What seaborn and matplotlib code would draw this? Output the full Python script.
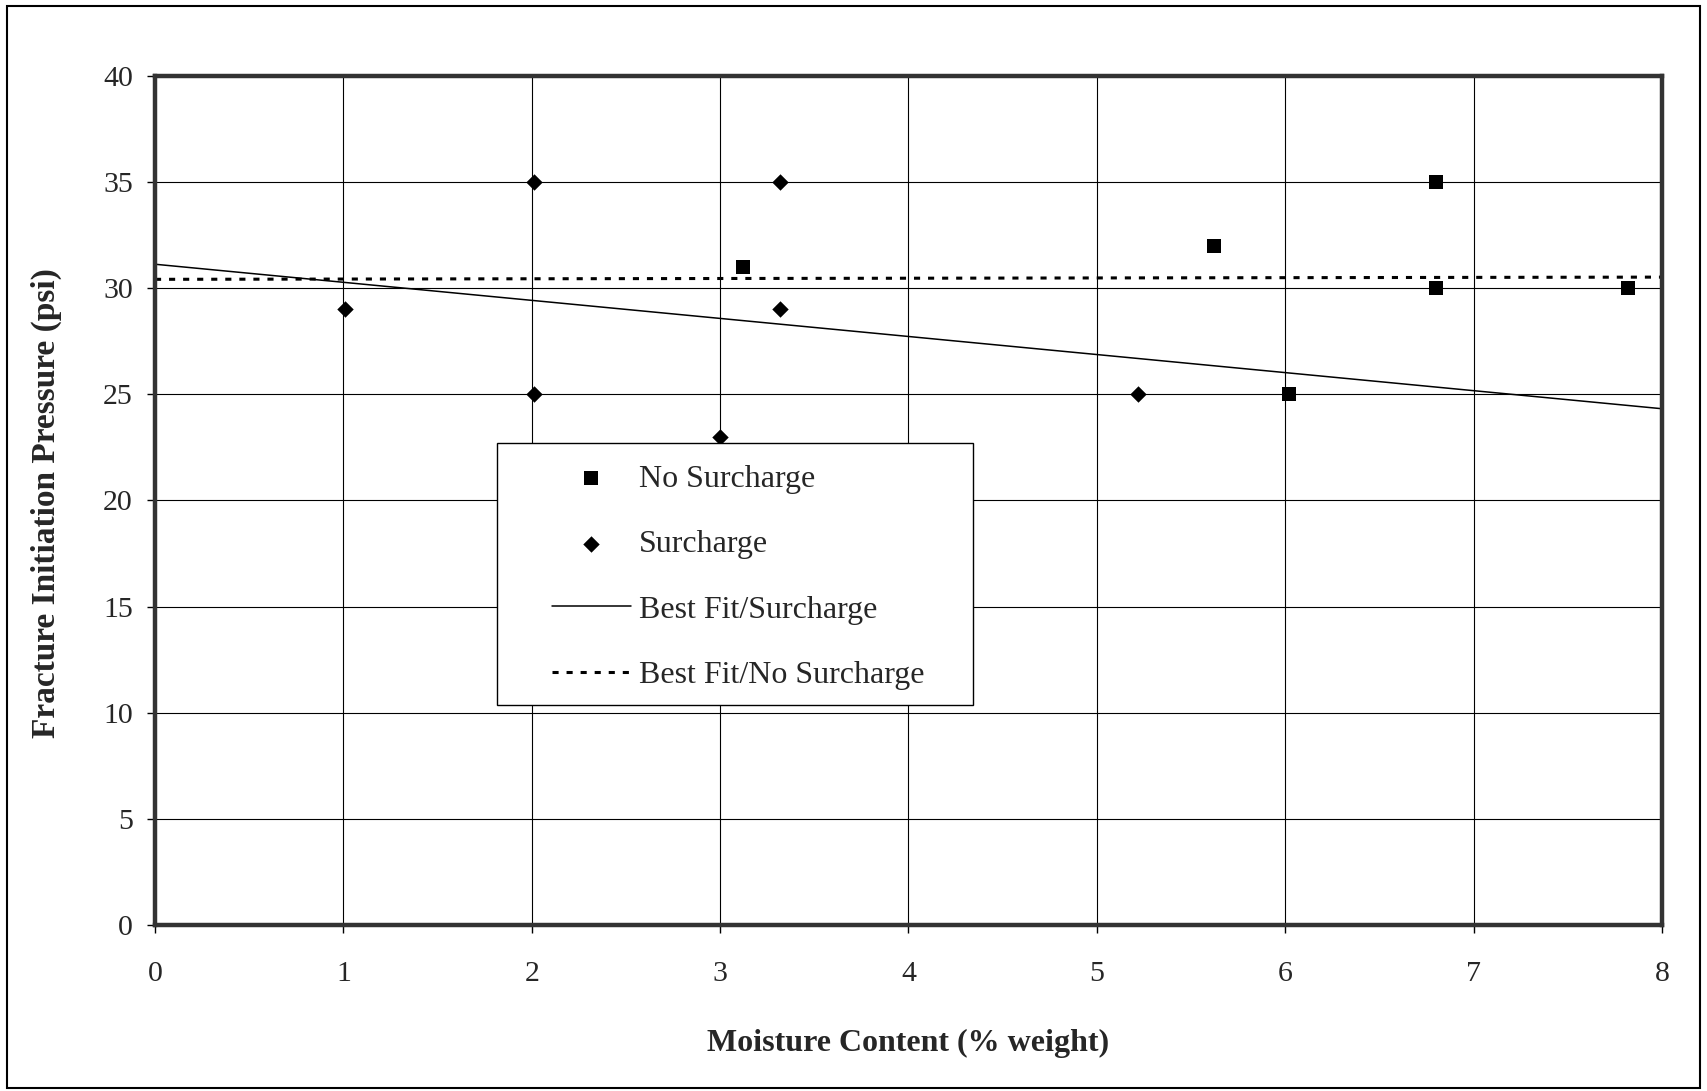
import pandas as pd
import seaborn as sns
import matplotlib.pyplot as plt
from matplotlib.patches import Rectangle

# Datos
moist_no_surch = [3.12, 5.62, 6.02, 6.80, 6.80, 7.82]
press_no_surch = [31, 32, 25, 35, 30, 30]
moist_surch = [1.01, 2.01, 2.01, 3.00, 3.32, 3.32, 5.22]
press_surch = [29, 35, 25, 23, 35, 29, 25]
x_ticks = [0, 1, 2, 3, 4, 5, 6, 7, 8]
y_ticks = [0, 5, 10, 15, 20, 25, 30, 35, 40]

df_no = pd.DataFrame({'moist': moist_no_surch, 'press': press_no_surch})
df_s = pd.DataFrame({'moist': moist_surch, 'press': press_surch})

sns.set_theme(style="white")
plt.rcParams['font.family'] = ['Liberation Serif', 'DejaVu Serif']

fig = plt.figure(figsize=(17.07, 10.91), dpi=100)
ax = fig.add_axes([0.0908, 0.1522, 0.8828, 0.7781])
ax.set_xlim(0, 8)
ax.set_ylim(0, 40)

# puntos
sns.scatterplot(data=df_no, x='moist', y='press', marker='s', s=100,
                color='black', edgecolor='black', linewidth=0,
                label='No Surcharge', ax=ax, zorder=3)
sns.scatterplot(data=df_s, x='moist', y='press', marker='D', s=70,
                color='black', edgecolor='black', linewidth=0,
                label='Surcharge', ax=ax, zorder=3)

# rectas de ajuste (regresión lineal de seaborn sobre todo el eje)
sns.regplot(data=df_s, x='moist', y='press', scatter=False, ci=None,
            truncate=False, color='black', label='Best Fit/Surcharge',
            line_kws={'lw': 1.1, 'zorder': 2}, ax=ax)
sns.regplot(data=df_no, x='moist', y='press', scatter=False, ci=None,
            truncate=False, color='black', label='Best Fit/No Surcharge',
            line_kws={'lw': 2.2, 'ls': (0, (2, 2.6)), 'zorder': 2}, ax=ax)

ax.set_xlim(0, 8)
ax.set_ylim(0, 40)
ax.set_xticks(x_ticks)
ax.set_yticks(y_ticks)

# rejilla y bordes
ax.grid(True, color='black', lw=0.8)
ax.set_axisbelow(True)
for sp in ax.spines.values():
    sp.set_linewidth(3.2)
    sp.set_color('0.2')
    sp.set_visible(True)

ax.tick_params(axis='both', direction='out', length=6, width=1, color='black',
               labelsize=21.5, bottom=True, left=True)
ax.tick_params(axis='x', pad=20)
ax.tick_params(axis='y', pad=10)

ax.set_xlabel("Moisture Content (% weight)", fontsize=23, fontweight='bold')
ax.set_ylabel("Fracture Initiation Pressure (psi)", fontsize=24, fontweight='bold')
ax.xaxis.set_label_coords(0.5, -0.123)
ax.yaxis.set_label_coords(-0.062, 0.4965)

# leyenda con marco propio
ax.add_patch(Rectangle((0.227, 0.259), 0.316, 0.309, transform=ax.transAxes,
                       facecolor='white', edgecolor='black', lw=1.0, zorder=4))
h, l = ax.get_legend_handles_labels()
order = ['No Surcharge', 'Surcharge', 'Best Fit/Surcharge', 'Best Fit/No Surcharge']
hh = [h[l.index(o)] for o in order]
ax.legend(hh, order, loc='center', bbox_to_anchor=(0.387, 0.4096),
          frameon=False, fontsize=23, handlelength=2.5, handletextpad=0.25,
          labelspacing=1.13, scatterpoints=1)

# marco exterior de la figura
fig.add_artist(Rectangle((0.0041, 0.0027), 0.9918, 0.9918, transform=fig.transFigure,
                         fill=False, edgecolor='black', lw=1.5))

plt.savefig('out.png', dpi=100)
